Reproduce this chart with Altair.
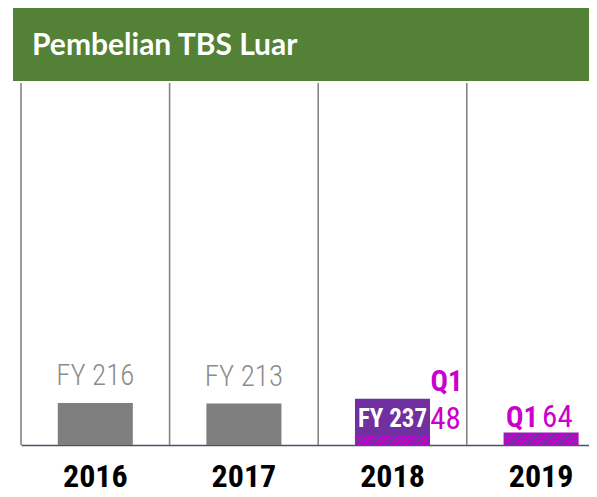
import altair as alt
import pandas as pd

# ---- data ----
years = ["2016", "2017", "2018", "2019"]
fy_values = [216, 213, 237, None]      # full-year purchase
q1_values = [None, None, 48, 64]       # Q1 purchase
title_text = "Pembelian TBS Luar"

GRAY = "#7f7f7f"
PURPLE = "#7030a0"
MAGENTA = "#cc00cc"
COND = "Roboto Condensed"

df = pd.DataFrame({"year": years, "fy": fy_values, "q1": q1_values})
df["zero"] = 0
df["fy_label"] = ["FY %d" % v if v == v and v is not None else "" for v in df["fy"]]
df["q1_label"] = ["%d" % v if v == v and v is not None else "" for v in df["q1"]]

W, H = 568, 362
Y_MAX = 1860
xscale = alt.Scale(domain=years, range=[0, 594.4], paddingInner=0, paddingOuter=0)
xaxis = alt.Axis(title=None, labelAngle=0, ticks=False, tickSize=0, grid=False,
                 labelFont=COND, labelFontWeight="bold", labelFontSize=32,
                 labelColor="#000000", labelPadding=41, labelBaseline="alphabetic",
                 domainColor="#44546a", domainWidth=1.5)
X = alt.X("year:N", scale=xscale, axis=xaxis, sort=years)
yscale = alt.Scale(domain=[0, Y_MAX])


def hatch(h_px, w_px=75.0, period_px=5.3):
    k = h_px / w_px
    s = (1 + k) / (1 + k * k)
    T = (period_px / w_px) / (1 + k * k) / s
    stops = []
    n = 0
    while n * T < 1:
        a = n * T
        b = min(a + T / 2, 1)
        c = min(a + T, 1)
        stops += [alt.GradientStop(color=MAGENTA, offset=a),
                  alt.GradientStop(color=MAGENTA, offset=b),
                  alt.GradientStop(color=PURPLE, offset=b),
                  alt.GradientStop(color=PURPLE, offset=c)]
        n += 1
    return alt.LinearGradient(gradient="linear", stops=stops, x1=0, y1=0, x2=s, y2=s * k)


px_per_unit = float(H) / Y_MAX
base = alt.Chart(df)

grid = base.mark_rule(color="#858585", strokeWidth=1.6).encode(
    x=alt.X("year:N", scale=xscale, axis=xaxis, sort=years, bandPosition=0))

gray_bars = base.transform_filter("datum.year == '2016' || datum.year == '2017'").mark_bar(
    color=GRAY, width={"band": 0.505}).encode(
    x=X, y=alt.Y("fy:Q", scale=yscale, axis=None))

purple_bar = base.transform_filter("datum.year == '2018'").mark_bar(
    color=PURPLE, width={"band": 0.505}).encode(
    x=X, y=alt.Y("fy:Q", scale=yscale, axis=None))

hatch18 = base.transform_filter("datum.year == '2018'").mark_bar(
    color=hatch(48 * px_per_unit), width={"band": 0.505}).encode(
    x=X, y=alt.Y("q1:Q", scale=yscale, axis=None))

hatch19 = base.transform_filter("datum.year == '2019'").mark_bar(
    color=hatch(64 * px_per_unit), width={"band": 0.505}).encode(
    x=X, y=alt.Y("q1:Q", scale=yscale, axis=None))

fy_gray = base.transform_filter("datum.year == '2016' || datum.year == '2017'").mark_text(
    font=COND, fontWeight=300, fontSize=29, color="#8c8c8c", baseline="alphabetic", dy=-18).encode(
    x=X, y=alt.Y("fy:Q", scale=yscale, axis=None), text="fy_label:N")

fy_white = base.transform_filter("datum.year == '2018'").mark_text(
    font=COND, fontWeight="bold", fontSize=25, color="white", baseline="alphabetic", dy=-18).encode(
    x=X, y=alt.Y("zero:Q", scale=yscale, axis=None), text="fy_label:N")

q1_num18 = base.transform_filter("datum.year == '2018'").mark_text(
    font=COND, fontSize=31, color=MAGENTA, baseline="alphabetic", dx=53, dy=-16).encode(
    x=X, y=alt.Y("zero:Q", scale=yscale, axis=None), text="q1_label:N")

q1_tag18 = base.transform_filter("datum.year == '2018'").mark_text(
    font=COND, fontWeight="bold", fontSize=29, color=MAGENTA, baseline="alphabetic", dx=54, dy=-54,
    text="Q1").encode(
    x=X, y=alt.Y("zero:Q", scale=yscale, axis=None))

q1_tag19 = base.transform_filter("datum.year == '2019'").mark_text(
    font=COND, fontWeight="bold", fontSize=29, color=MAGENTA, baseline="alphabetic", align="right",
    dx=-3, dy=-18, text="Q1").encode(
    x=X, y=alt.Y("zero:Q", scale=yscale, axis=None))

q1_num19 = base.transform_filter("datum.year == '2019'").mark_text(
    font=COND, fontSize=31, color=MAGENTA, baseline="alphabetic", align="left", dx=1, dy=-18).encode(
    x=X, y=alt.Y("zero:Q", scale=yscale, axis=None), text="q1_label:N")

tdf = pd.DataFrame({"t": [title_text]})
banner = alt.Chart(tdf).mark_rect(color="#538135").encode(
    x=alt.value(-8), x2=alt.value(W), y=alt.value(-77), y2=alt.value(-2))
title = alt.Chart(tdf).mark_text(font="Lato", fontWeight="bold", fontSize=30, color="white",
                                 align="left", baseline="alphabetic").encode(
    x=alt.value(11), y=alt.value(-28), text="t:N")

chart = alt.layer(grid, gray_bars, purple_bar, hatch18, hatch19, fy_gray, fy_white,
                  q1_num18, q1_tag18, q1_tag19, q1_num19, banner, title).properties(
    width=W, height=H,
    padding={"left": 13, "top": 75, "right": 0, "bottom": 44},
    autosize=alt.AutoSizeParams(type="none"),
).configure_view(stroke=None)

chart.save("out.html", embed_options={"renderer": "svg", "actions": False})
